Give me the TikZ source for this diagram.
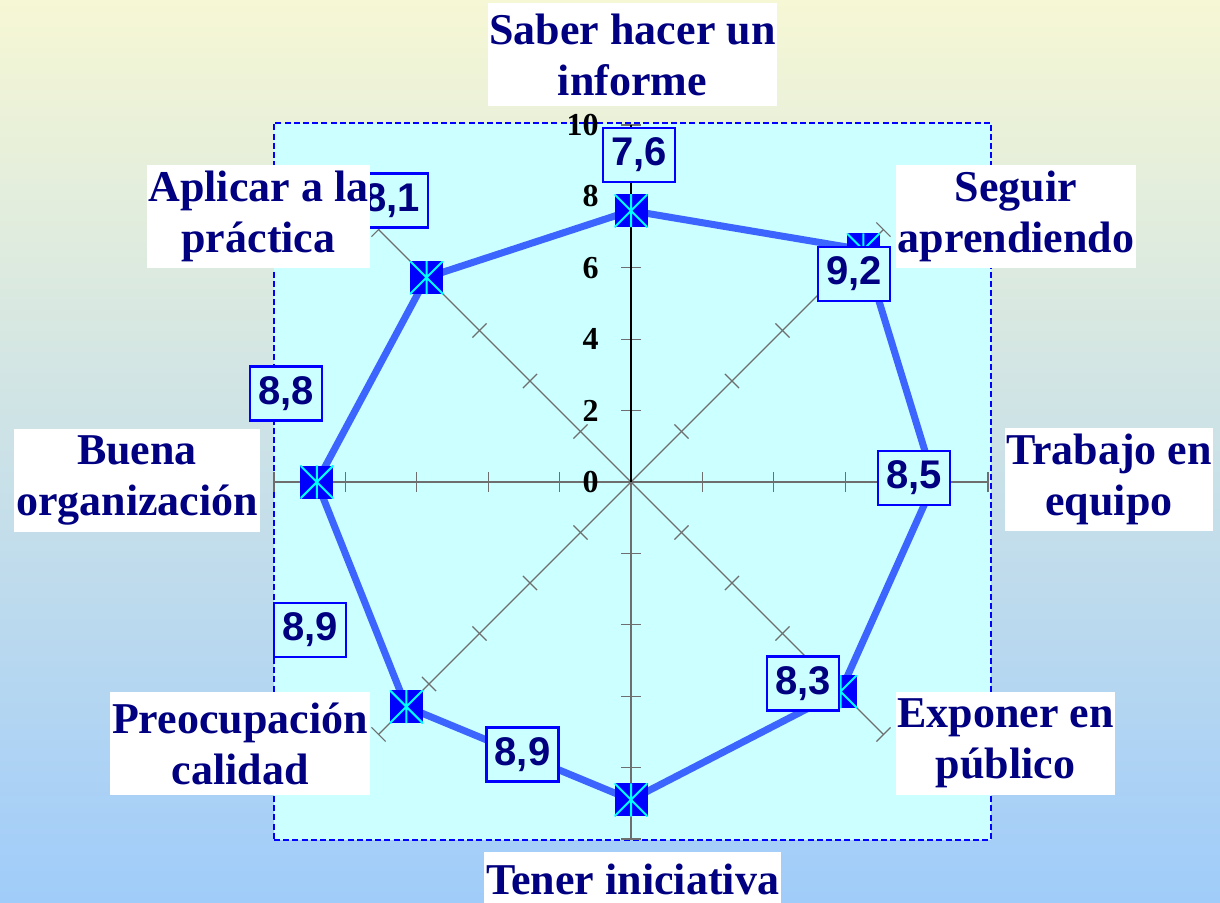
\documentclass[tikz,border=0pt]{standalone}
\usepackage{fontspec}
\newfontfamily\catfont{Liberation Serif}
\newfontfamily\valfont{Liberation Sans}
\definecolor{navy}{RGB}{0,0,128}
\definecolor{plotcyan}{RGB}{204,255,255}
\definecolor{bgtop}{RGB}{246,247,212}
\definecolor{bgbot}{RGB}{160,204,250}
\definecolor{dataline}{RGB}{60,100,255}
\definecolor{axisgrey}{RGB}{110,110,110}
\definecolor{markcyan}{RGB}{0,255,255}
\begin{document}
\begin{tikzpicture}[x=0.5pt,y=-0.5pt,
  cat/.style={fill=white, text=navy, font=\catfont\bfseries\fontsize{22}{25.5}\selectfont, align=center, inner sep=0pt, minimum height=51.5pt},
  val/.style={fill=plotcyan, draw=blue, line width=1.4pt, text=navy, font=\valfont\bfseries\fontsize{20}{24}\selectfont, minimum width=36pt, minimum height=27pt, inner sep=0pt},
  num/.style={font=\catfont\bfseries\fontsize{16}{18}\selectfont, text=black, anchor=east, inner sep=0pt},
  axisline/.style={draw=axisgrey, line width=0.6pt},
  marker/.style={rectangle, fill=blue, minimum size=16.5pt, inner sep=0pt,
    path picture={\draw[markcyan, line width=1pt]
      (path picture bounding box.north west) -- (path picture bounding box.south east)
      (path picture bounding box.north east) -- (path picture bounding box.south west)
      (path picture bounding box.north) -- (path picture bounding box.south);}},
  plotarea/.style={fill=plotcyan, draw=blue, line width=1pt, dash pattern=on 3pt off 1.6pt}
]
\useasboundingbox (0,0) rectangle (1220,902);
\shade[top color=bgtop, bottom color=bgbot] (0,0) rectangle (1220,902);
\node[plotarea, minimum width=358.5pt, minimum height=358.5pt, inner sep=0pt] (plot) at (632.5,481) {};

\begin{scope}[shift={(631,482)}, x=17.85pt, y=17.85pt]
  \coordinate (c) at (0,0);
  \foreach \a/\n in {0/e,45/ne,90/n,135/nw,180/w,225/sw,270/s,315/se} {
    \coordinate (ax\n) at (\a:10);
    \draw[axisline] (c) -- (ax\n);
    \foreach \r in {2,4,6,8,10} {
      \draw[axisline, rotate=\a] (\r,-0.28) -- (\r,0.28);
    }
  }
  \draw[black, line width=0.6pt] (c) -- (axn);
  \node[marker] (m1) at (90:7.6) {};
  \node[marker] (m2) at (45:9.2) {};
  \node[marker] (m3) at (0:8.5) {};
  \node[marker] (m4) at (-45:8.3) {};
  \node[marker] (m5) at (-90:8.9) {};
  \node[marker] (m6) at (-135:8.9) {};
  \node[marker] (m7) at (180:8.8) {};
  \node[marker] (m8) at (135:8.1) {};
\end{scope}

\draw[dataline, line width=3.5pt, line join=round]
  (m1.center) -- (m2.center) -- (m3.center) -- (m4.center) -- (m5.center) -- (m6.center) -- (m7.center) -- (m8.center) -- cycle;
\foreach \i in {1,...,8} {
  \node[marker] at (m\i) {};
}

\node[num] (n0) at (599,482) {0};
\node[num] (n2) at (599,410.6) {2};
\node[num] (n4) at (599,339.2) {4};
\node[num] (n6) at (599,267.8) {6};
\node[num] (n8) at (599,196.4) {8};
\node[num] (n10) at (599,125) {10};

\node[val] (v1) at (639,155) {7,6};
\node[val] (v8) at (392,200.5) {8,1};
\node[val] (v2) at (854,274) {9,2};
\node[val] (v3) at (914,478) {8,5};
\node[val] (v7) at (286,393.5) {8,8};
\node[val] (v6) at (310,630) {8,9};
\node[val] (v4) at (803,683.5) {8,3};
\node[val] (v5) at (522.5,754.5) {8,9};

\node[cat, minimum width=144.5pt] (l1) at (632.5,54.5) {Saber hacer un\\informe};
\node[cat, minimum width=111.5pt] (l8) at (258.5,216.5) {Aplicar a la\\práctica};
\node[cat, minimum width=120pt] (l2) at (1016,216.5) {Seguir\\aprendiendo};
\node[cat, minimum width=104pt] (l3) at (1109,479.5) {Trabajo en\\equipo};
\node[cat, minimum width=123pt] (l7) at (137,480) {Buena\\organización};
\node[cat, minimum width=109.5pt] (l4) at (1005.5,743.5) {Exponer en\\público};
\node[cat, minimum width=130pt] (l6) at (240,743.5) {Preocupación\\calidad};
\node[cat, minimum width=148.5pt, minimum height=0pt, text height=21pt, text depth=10pt, anchor=base] (l5) at (632.5,894) {Tener iniciativa};
\end{tikzpicture}
\end{document}
